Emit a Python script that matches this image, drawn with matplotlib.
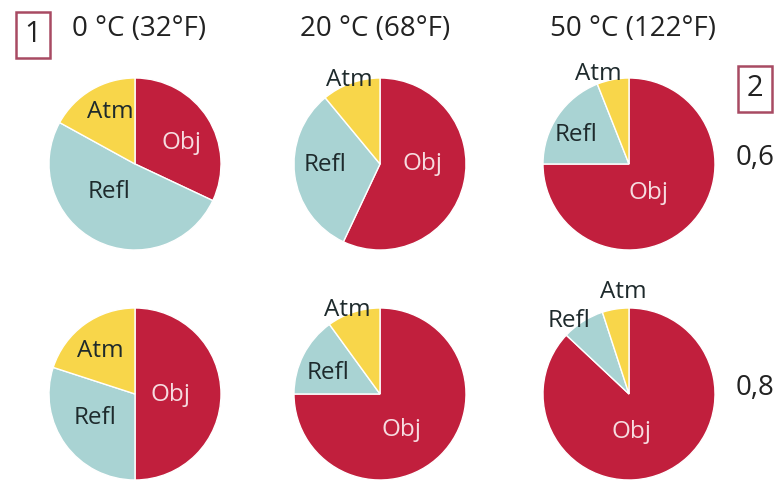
import numpy as np
import matplotlib
matplotlib.use("Agg")
import matplotlib.pyplot as plt

plt.rcParams['font.family'] = ['Open Sans', 'DejaVu Sans']

# data
categories = ["Obj", "Refl", "Atm"]
temp_labels = ["0 °C (32°F)", "20 °C (68°F)", "50 °C (122°F)"]
emissivity_labels = ["0,6", "0,8"]

obj_06 = [32, 57, 75]
refl_06 = [51, 32, 19]
atm_06 = [17, 11, 6]

obj_08 = [50, 75, 87]
refl_08 = [30, 15, 8]
atm_08 = [20, 10, 5]

rows = [(obj_06, refl_06, atm_06), (obj_08, refl_08, atm_08)]

# style
colors = ["#C11F3D", "#A9D3D3", "#F8D64A"]
text_colors = ["#F6DCE0", "#1E2A2C", "#1E2A2C"]
box_color = "#A84A63"

# label radius (fraction of pie radius) and angle tweak per wedge
label_r = [[(0.60, 0.45, 0.67), (0.50, 0.64, 1.04), (0.40, 0.70, 1.10)],
           [(0.41, 0.54, 0.64), (0.49, 0.65, 1.05), (0.44, 1.10, 1.19)]]
label_dang = [[(-8, -16, -5), (13, -6, 0), (-11, 5, 8)],
              [(-2, -5, 3), (-15, 5, 3), (-19, 7, -6)]]

W, H = 782, 484
col_x = [135, 380, 629]
row_y = [164, 394]
R = 86

fig = plt.figure(figsize=(W / 100, H / 100), dpi=100)

for i, series in enumerate(rows):
    for j in range(3):
        cx, cy = col_x[j], row_y[i]
        ax = fig.add_axes([(cx - R) / W, 1 - (cy + R) / H, 2 * R / W, 2 * R / H])
        values = [series[0][j], series[1][j], series[2][j]]
        wedges, _ = ax.pie(values, colors=colors, startangle=90, counterclock=False,
                           radius=1, wedgeprops=dict(edgecolor="white", linewidth=1.0))
        for k, w in enumerate(wedges):
            mid = np.deg2rad((w.theta1 + w.theta2) / 2 + label_dang[i][j][k])
            r = label_r[i][j][k]
            ax.text(r * np.cos(mid), r * np.sin(mid), categories[k], ha="center", va="center",
                    fontsize=17.5, fontweight="medium", color=text_colors[k], clip_on=False)
        ax.set_xlim(-1, 1)
        ax.set_ylim(-1, 1)
        ax.set_aspect("equal")
        ax.axis("off")

title_x = [139, 375, 633]
for j, t in enumerate(temp_labels):
    fig.text(title_x[j] / W, 1 - 29 / H, t, ha="center", va="center", fontsize=20, color="#222222")

for i, e in enumerate(emissivity_labels):
    fig.text(755 / W, 1 - (row_y[i] - 6) / H, e, ha="center", va="center", fontsize=20, color="#222222")

box = dict(boxstyle="square,pad=0.3", fc="none", ec=box_color, lw=1.8)
fig.text(33 / W, 1 - 35 / H, "1", ha="center", va="center", fontsize=21, color="#222222", bbox=box)
fig.text(755 / W, 1 - 89 / H, "2", ha="center", va="center", fontsize=21, color="#222222", bbox=box)

fig.savefig("out.png", dpi=100)
